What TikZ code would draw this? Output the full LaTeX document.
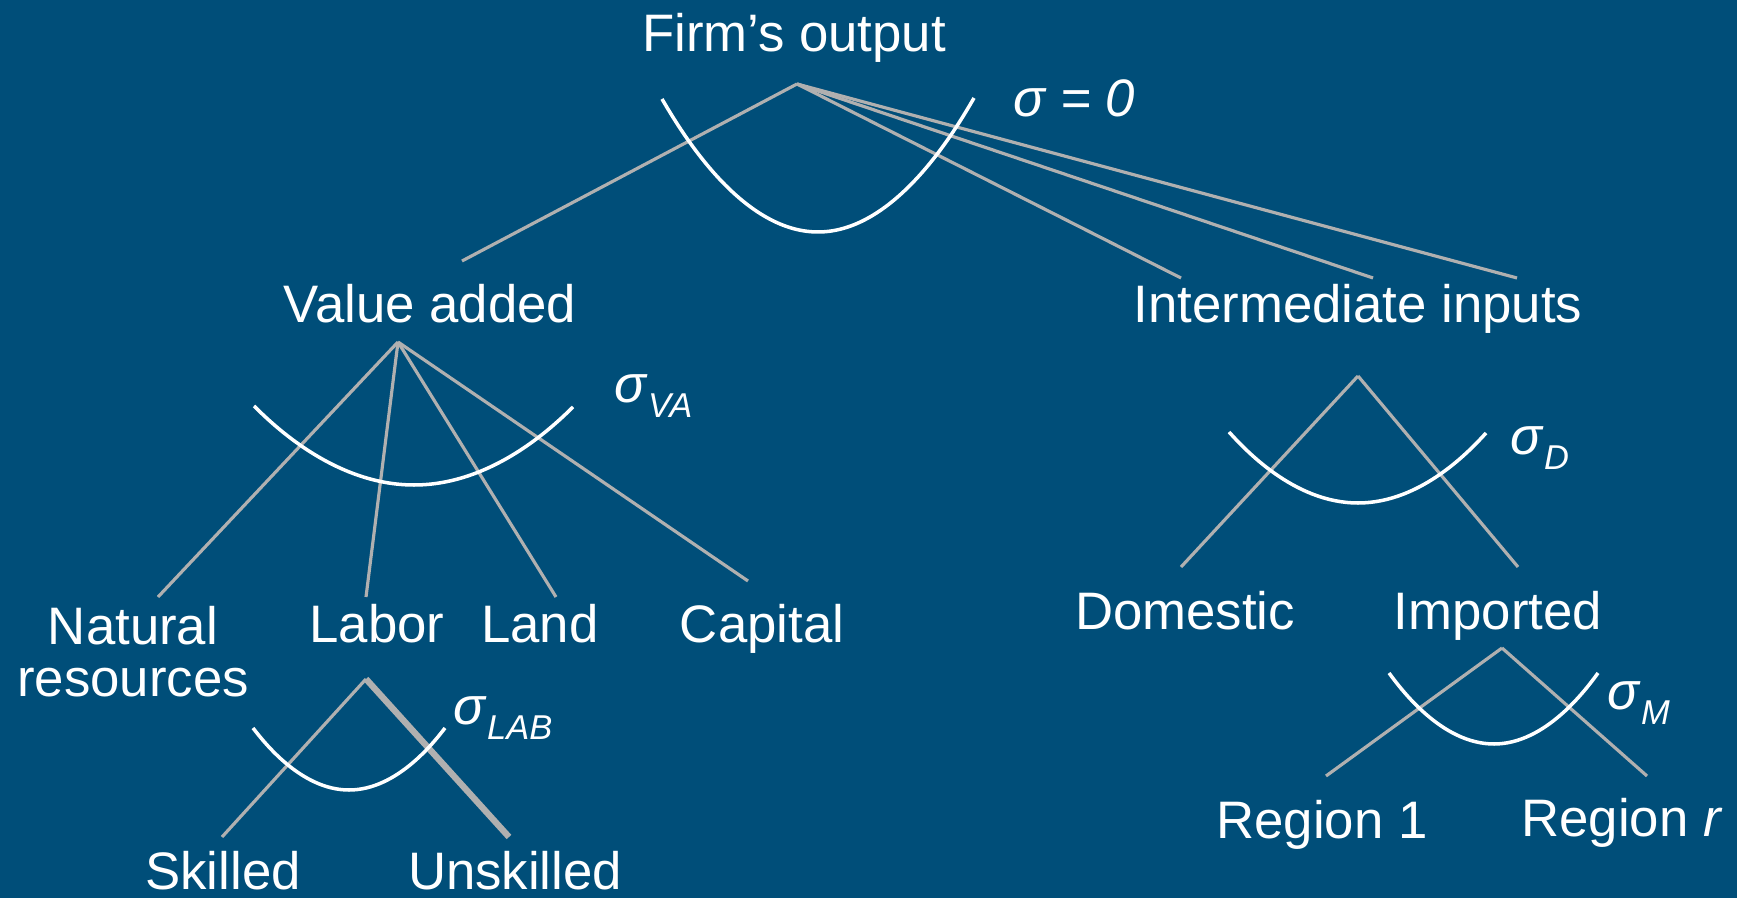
\documentclass[tikz,border=0pt]{standalone}
\usepackage{fontspec}
\setmainfont{Liberation Sans}
\usepackage{xcolor}
\usepackage{tikz}
\usetikzlibrary{positioning}
\definecolor{slideblue}{RGB}{0,78,121}
\definecolor{branchgray}{RGB}{176,176,176}

% sigma with a small italic subscript
\newcommand{\sigsub}[1]{\textit{σ}\raisebox{-4pt}{\fontsize{9.8}{9.8}\selectfont\textit{#1}}}

\begin{document}
\begin{tikzpicture}[
  x=0.01cm, y=-0.01cm,
  every node/.style = {font=\fontsize{15}{14.8}\selectfont, text=white, inner sep=0pt},
  lbl/.style    = {anchor=base},
  siglbl/.style = {anchor=base west},
  branch/.style = {draw=branchgray, line width=0.9pt},
  nest/.style   = {draw=white, line width=1pt},
]

%% ── Background ───────────────────────────────────────────────────────────────
\fill[slideblue] (0,0) rectangle (1737,898);
\useasboundingbox (0,0) rectangle (1737,898);

%% ── Labels ───────────────────────────────────────────────────────────────────
\node[lbl] (firm) at (794,52) {Firm’s output};
\node[siglbl] (sig0) at (1013,117) {\textit{σ = 0}};

\node[lbl] (va) at (430,323) {Value added};
\node[lbl] (ii) at (1358,323) {Intermediate inputs};
\node[siglbl] (sigva) at (614,403) {\sigsub{VA}};

\node[align=center] (natres) at (133,652) {Natural\\resources};
\node[lbl] (labor)   at (377,643) {Labor};
\node[lbl] (land)    at (540,643) {Land};
\node[lbl] (capital) at (762,643) {Capital};
\node[siglbl] (siglab) at (453,725) {\sigsub{LAB}};

\node[lbl] (skilled)   at (223,889) {Skilled};
\node[lbl] (unskilled) at (515,889) {Unskilled};

\node[lbl] (dom) at (1185,630) {Domestic};
\node[lbl] (imp) at (1498,630) {Imported};
\node[siglbl] (sigd) at (1510,455) {\sigsub{D}};
\node[siglbl] (sigm) at (1607,710) {\sigsub{M}};

\node[lbl] (reg1) at (1322,838) {Region 1};
\node[lbl] (regr) at (1622,837) {Region \textit{r}};

%% ── Branch points ────────────────────────────────────────────────────────────
\coordinate (firm-top) at (797,84);
\coordinate (va-top)   at (398,342);
\coordinate (lab-top)  at (366,679);
\coordinate (ii-top)   at (1358,376);
\coordinate (imp-top)  at (1502,648);

\coordinate (va-in)  at (462,261);
\coordinate (ii-in1) at (1181,278);
\coordinate (ii-in2) at (1373,278);
\coordinate (ii-in3) at (1517,278);

\coordinate (natres-in)  at (158,597);
\coordinate (labor-in)   at (366,597);
\coordinate (land-in)    at (556,597);
\coordinate (capital-in) at (748,581);

\coordinate (skilled-in)   at (222,837);
\coordinate (unskilled-in) at (509,837);

\coordinate (dom-in) at (1181,567);
\coordinate (imp-in) at (1518,567);

\coordinate (reg1-in) at (1326,776);
\coordinate (regr-in) at (1647,776);

%% ── Branches ─────────────────────────────────────────────────────────────────
\foreach \e in {va-in, ii-in1, ii-in2, ii-in3}
  \draw[branch] (firm-top) -- (\e);
\foreach \e in {natres-in, labor-in, land-in, capital-in}
  \draw[branch] (va-top) -- (\e);
\draw[branch] (lab-top) -- (skilled-in);
\draw[branch, line width=1.8pt] (lab-top) -- (unskilled-in);
\draw[branch] (ii-top) -- (dom-in);
\draw[branch] (ii-top) -- (imp-in);
\draw[branch] (imp-top) -- (reg1-in);
\draw[branch] (imp-top) -- (regr-in);

%% ── Substitution arcs ────────────────────────────────────────────────────────
\draw[nest] (662,99)   parabola bend (818,232)  (974,98);
\draw[nest] (254,406)  parabola bend (414,485)  (573,407);
\draw[nest] (253,728)  parabola bend (349,790)  (445,728);
\draw[nest] (1229,432) parabola bend (1358,503) (1486,433);
\draw[nest] (1389,673) parabola bend (1494,744) (1598,673);

\end{tikzpicture}
\end{document}
